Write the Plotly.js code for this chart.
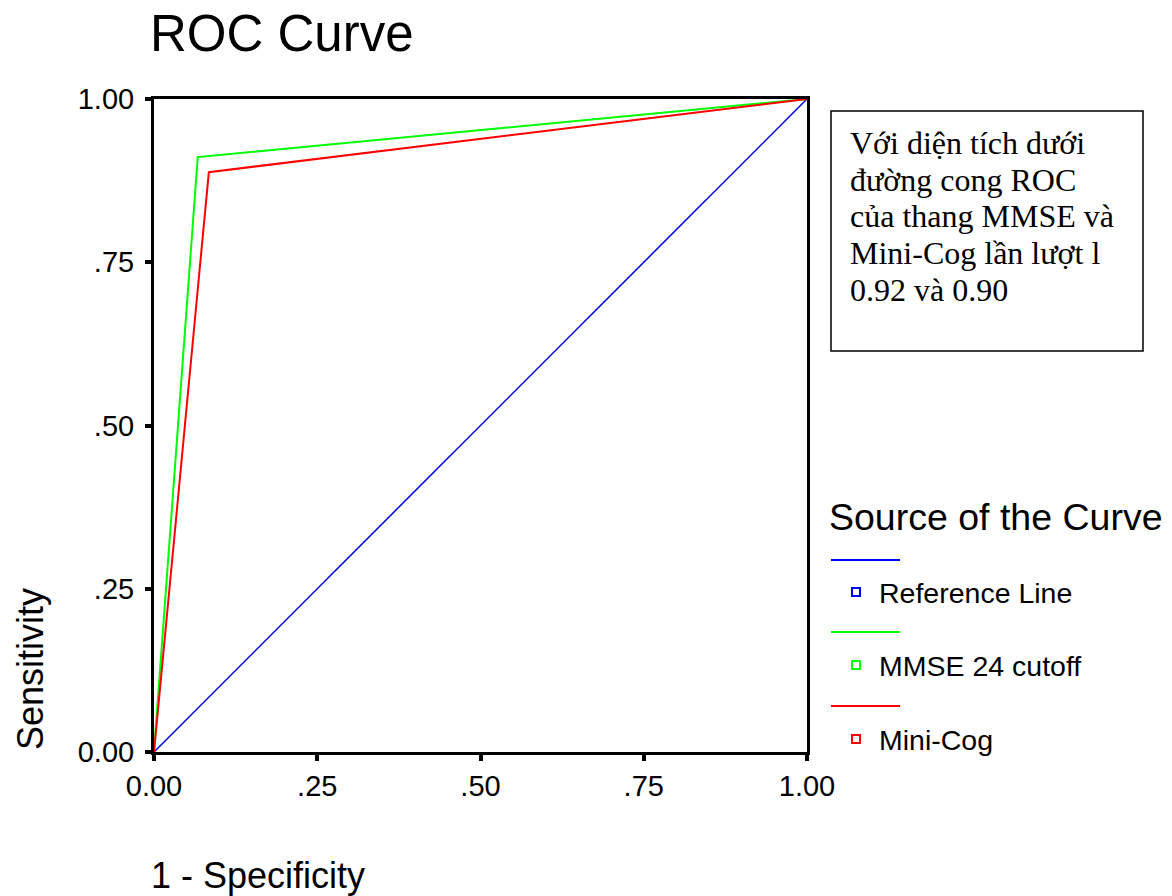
<!DOCTYPE html>
<html>
<head>
<meta charset="utf-8">
<script src="https://cdn.plot.ly/plotly-3.0.1.min.js"></script>
<style>
html,body{margin:0;padding:0;background:#fff;}
#chart{width:1172px;height:896px;}
</style>
</head>
<body>
<div id="chart"></div>
<script>
// ---- data ----
var refX = [0, 1];
var refY = [0, 1];
var mmseX = [0, 0.067, 1];
var mmseY = [0, 0.911, 1];
var minicogX = [0, 0.084, 1];
var minicogY = [0, 0.888, 1];
var seriesNames = ["Reference Line", "MMSE 24 cutoff", "Mini-Cog"];
var seriesColors = ["#0000ff", "#00ff00", "#ff0000"];
var tickVals = [0, 0.25, 0.5, 0.75, 1];
var tickText = ["0.00", ".25", ".50", ".75", "1.00"];
var noteLines = ["Với diện tích dưới", "đường cong ROC", "của thang MMSE và", "Mini-Cog lần lượt l", "0.92 và 0.90"];

// ---- layout helpers (pixel -> paper) ----
var W = 1172, H = 896;
var L = 154, R = 807, T = 99, B = 752;
function px(x){ return (x - L) / (R - L); }
function py(y){ return (B - y) / (B - T); }

var sans = "Liberation Sans, Arial, sans-serif";
var serif = "Liberation Serif, Times New Roman, serif";

var traces = [
  {x: refX, y: refY, mode: "lines", line: {color: seriesColors[0], width: 1.5}, name: seriesNames[0], hoverinfo: "skip"},
  {x: mmseX, y: mmseY, mode: "lines", line: {color: seriesColors[1], width: 2}, name: seriesNames[1], hoverinfo: "skip"},
  {x: minicogX, y: minicogY, mode: "lines", line: {color: seriesColors[2], width: 2}, name: seriesNames[2], hoverinfo: "skip"}
];

var shapes = [];
var annotations = [];

// note box
shapes.push({type: "rect", xref: "paper", yref: "paper", x0: px(831), x1: px(1143), y0: py(351), y1: py(111), line: {color: "#000", width: 1.5}, fillcolor: "rgba(0,0,0,0)"});
var noteY = [143, 180, 216, 253, 290];
noteLines.forEach(function(t, i){
  annotations.push({text: t, xref: "paper", yref: "paper", x: px(848), y: py(noteY[i]), xanchor: "left", yanchor: "middle", showarrow: false, font: {family: serif, size: 32, color: "#000"}});
});

// custom legend
annotations.push({text: "Source of the Curve", xref: "paper", yref: "paper", x: px(827), y: py(517), xanchor: "left", yanchor: "middle", showarrow: false, font: {family: sans, size: 37.5, color: "#000"}});
var legLineY = [560, 632, 706];
var legItemY = [592, 665, 739];
for (var i = 0; i < 3; i++) {
  shapes.push({type: "line", xref: "paper", yref: "paper", x0: px(831), x1: px(900), y0: py(legLineY[i]), y1: py(legLineY[i]), line: {color: seriesColors[i], width: 2}});
  shapes.push({type: "rect", xref: "paper", yref: "paper", x0: px(852), x1: px(860), y0: py(legItemY[i] + 4), y1: py(legItemY[i] - 4), line: {color: seriesColors[i], width: 2}, fillcolor: "rgba(0,0,0,0)"});
  annotations.push({text: seriesNames[i], xref: "paper", yref: "paper", x: px(877), y: py(legItemY[i] + 1), xanchor: "left", yanchor: "middle", showarrow: false, font: {family: sans, size: 28.5, color: "#000"}});
}

// axis titles
annotations.push({text: "1 - Specificity", xref: "paper", yref: "paper", x: px(149), y: py(875), xanchor: "left", yanchor: "middle", showarrow: false, font: {family: sans, size: 36, color: "#000"}});
annotations.push({text: "Sensitivity", xref: "paper", yref: "paper", x: px(30), y: py(752), xanchor: "center", yanchor: "bottom", textangle: -90, showarrow: false, font: {family: sans, size: 36, color: "#000"}});

var layout = {
  width: W, height: H,
  margin: {l: L, r: W - R, t: T, b: H - B, pad: 0},
  paper_bgcolor: "#fff", plot_bgcolor: "#fff",
  showlegend: false,
  title: {text: "ROC Curve", x: 150 / W, xanchor: "left", xref: "container", y: 1 - 33 / H, yref: "container", yanchor: "middle", font: {family: sans, size: 51, color: "#000"}},
  xaxis: {
    range: [0, 1], tickvals: tickVals, ticktext: tickText,
    showgrid: false, zeroline: false, showline: true, linecolor: "#000", linewidth: 3, mirror: true,
    ticks: "outside", ticklen: 6, tickwidth: 4, tickcolor: "#000",
    tickfont: {family: sans, size: 29, color: "#000"}, fixedrange: true
  },
  yaxis: {
    range: [0, 1], tickvals: tickVals, ticktext: tickText,
    showgrid: false, zeroline: false, showline: true, linecolor: "#000", linewidth: 3, mirror: true,
    ticks: "outside", ticklen: 6, tickwidth: 4, tickcolor: "#000", ticklabelstandoff: 5,
    tickfont: {family: sans, size: 29, color: "#000"}, fixedrange: true
  },
  shapes: shapes,
  annotations: annotations
};

Plotly.newPlot("chart", traces, layout, {displayModeBar: false, staticPlot: true});
</script>
</body>
</html>
